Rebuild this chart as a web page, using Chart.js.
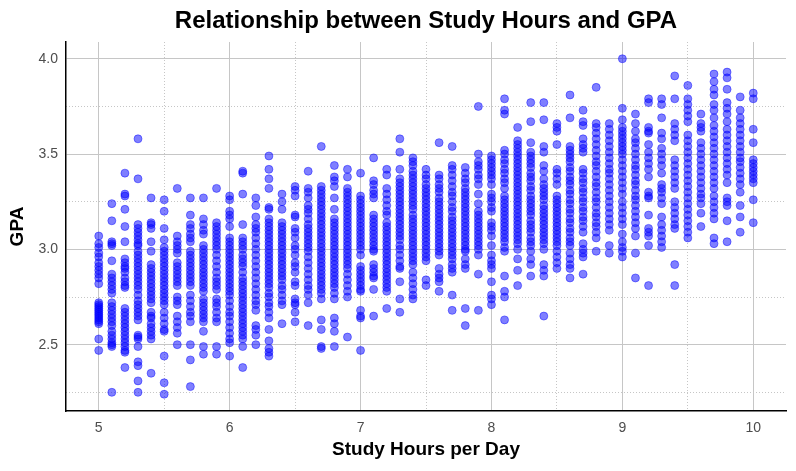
<!DOCTYPE html>
<html>
<head>
<meta charset="utf-8">
<script src="https://cdn.jsdelivr.net/npm/chart.js@4.4.1/dist/chart.umd.min.js"></script>
<style>
  html, body { margin: 0; padding: 0; background: #fff; }
  #wrap { width: 796px; height: 471px; position: relative; }
</style>
</head>
<body>
<div id="wrap"><canvas id="chart"></canvas></div>
<script>
const chartTitle = "Relationship between Study Hours and GPA";
const xTitle = "Study Hours per Day";
const yTitle = "GPA";

// study hours per day (one column of points per value)
const hours = [5.0, 5.1, 5.2, 5.3, 5.4, 5.5, 5.6, 5.7, 5.8, 5.9,
  6.0, 6.1, 6.2, 6.3, 6.4, 6.5, 6.6, 6.7, 6.8, 6.9,
  7.0, 7.1, 7.2, 7.3, 7.4, 7.5, 7.6, 7.7, 7.8, 7.9,
  8.0, 8.1, 8.2, 8.3, 8.4, 8.5, 8.6, 8.7, 8.8, 8.9,
  9.0, 9.1, 9.2, 9.3, 9.4, 9.5, 9.6, 9.7, 9.8, 9.9, 10.0];

// GPA values, same order as hours
const gpa = [
  [3.07,3.03,3.01,2.98,2.96,2.93,2.91,2.89,2.87,2.85,2.82,2.72,2.71,2.70,2.69,2.68,2.67,2.66,2.65,2.64,2.63,2.62,2.61,2.53,2.47],
  [3.24,3.15,3.04,3.03,3.02,2.94,2.87,2.85,2.83,2.81,2.79,2.77,2.72,2.70,2.68,2.66,2.64,2.62,2.60,2.57,2.55,2.53,2.51,2.50,2.49,2.25],
  [3.40,3.29,3.28,3.21,3.12,3.04,2.95,2.93,2.91,2.90,2.88,2.85,2.83,2.81,2.80,2.69,2.67,2.65,2.63,2.61,2.59,2.57,2.55,2.53,2.51,2.49,2.47,2.46,2.38],
  [3.58,3.37,3.13,3.11,3.09,3.07,3.05,3.03,3.02,2.99,2.97,2.95,2.93,2.91,2.89,2.87,2.85,2.83,2.81,2.79,2.76,2.73,2.71,2.69,2.67,2.65,2.63,2.55,2.54,2.53,2.49,2.41,2.39,2.31,2.25],
  [3.27,3.14,3.13,3.11,3.04,2.99,2.92,2.90,2.88,2.86,2.84,2.82,2.80,2.78,2.76,2.74,2.72,2.67,2.65,2.64,2.61,2.59,2.57,2.55,2.53,2.35],
  [3.26,3.20,3.11,3.05,3.01,2.99,2.97,2.95,2.93,2.91,2.89,2.87,2.85,2.83,2.81,2.79,2.77,2.75,2.73,2.71,2.67,2.64,2.61,2.58,2.57,2.44,2.30,2.24],
  [3.32,3.07,3.04,3.02,3.00,2.98,2.93,2.91,2.89,2.87,2.85,2.83,2.81,2.75,2.73,2.71,2.65,2.62,2.59,2.56,2.50],
  [3.27,3.18,3.13,3.11,3.08,3.06,3.04,2.99,2.97,2.95,2.93,2.91,2.89,2.87,2.85,2.83,2.81,2.76,2.73,2.70,2.67,2.65,2.62,2.50,2.42,2.28],
  [3.27,3.16,3.13,3.10,3.08,3.02,3.00,2.98,2.96,2.94,2.92,2.90,2.88,2.86,2.84,2.82,2.80,2.78,2.74,2.72,2.70,2.68,2.66,2.64,2.62,2.57,2.49,2.45],
  [3.32,3.14,3.12,3.10,3.08,3.06,3.04,3.02,3.00,2.97,2.94,2.91,2.88,2.85,2.83,2.81,2.79,2.74,2.72,2.70,2.67,2.64,2.62,2.49,2.45],
  [3.28,3.26,3.20,3.18,3.16,3.12,3.06,3.04,3.02,3.00,2.98,2.96,2.94,2.92,2.90,2.88,2.86,2.84,2.82,2.80,2.78,2.76,2.73,2.70,2.67,2.65,2.62,2.59,2.56,2.53,2.51,2.44],
  [3.41,3.40,3.29,3.13,3.06,3.04,3.02,3.00,2.97,2.95,2.93,2.91,2.88,2.85,2.83,2.81,2.79,2.77,2.75,2.73,2.71,2.69,2.67,2.65,2.63,2.61,2.59,2.57,2.55,2.53,2.49,2.38],
  [3.27,3.23,3.17,3.13,3.11,3.09,3.06,3.03,3.00,2.97,2.94,2.91,2.88,2.85,2.82,2.79,2.76,2.73,2.71,2.68,2.60,2.58,2.55,2.50],
  [3.49,3.42,3.37,3.32,3.22,3.21,3.16,3.14,3.12,3.10,3.08,3.06,3.04,3.02,3.00,2.98,2.96,2.94,2.92,2.90,2.88,2.86,2.84,2.82,2.80,2.77,2.75,2.72,2.70,2.67,2.64,2.58,2.52,2.48,2.46,2.44],
  [3.29,3.25,3.21,3.14,3.12,3.10,3.08,3.06,3.04,3.02,3.00,2.98,2.96,2.94,2.92,2.90,2.88,2.86,2.84,2.81,2.79,2.76,2.73,2.71,2.61],
  [3.33,3.31,3.28,3.18,3.17,3.11,3.09,3.06,3.02,3.00,2.97,2.93,2.91,2.88,2.83,2.81,2.74,2.72,2.71,2.67,2.62],
  [3.41,3.32,3.30,3.27,3.23,3.21,3.19,3.16,3.13,3.11,3.09,3.07,3.05,3.03,3.01,2.99,2.96,2.93,2.90,2.87,2.84,2.81,2.79,2.76,2.72,2.60],
  [3.54,3.33,3.31,3.29,3.27,3.25,3.23,3.21,3.19,3.17,3.15,3.13,3.11,3.09,3.07,3.05,3.03,3.01,2.99,2.97,2.95,2.93,2.91,2.89,2.87,2.85,2.83,2.81,2.79,2.77,2.74,2.63,2.58,2.49,2.48],
  [3.44,3.38,3.36,3.33,3.27,3.21,3.16,3.14,3.12,3.10,3.08,3.06,3.04,3.02,3.00,2.98,2.96,2.94,2.92,2.90,2.88,2.86,2.84,2.82,2.80,2.77,2.74,2.64,2.61,2.57,2.49],
  [3.42,3.38,3.32,3.30,3.28,3.26,3.24,3.22,3.20,3.18,3.16,3.14,3.12,3.10,3.08,3.06,3.04,3.02,3.00,2.98,2.96,2.94,2.92,2.90,2.87,2.84,2.81,2.78,2.75,2.54],
  [3.40,3.28,3.26,3.24,3.22,3.20,3.18,3.16,3.14,3.12,3.10,3.08,3.06,3.04,3.02,3.00,2.97,2.91,2.89,2.87,2.85,2.83,2.81,2.79,2.78,2.68,2.65,2.64,2.47],
  [3.48,3.36,3.34,3.31,3.29,3.27,3.18,3.16,3.14,3.12,3.10,3.08,3.06,3.04,3.02,3.00,2.99,2.92,2.90,2.88,2.86,2.85,2.79,2.65],
  [3.42,3.39,3.32,3.29,3.26,3.23,3.20,3.18,3.14,3.12,3.10,3.08,3.06,3.04,3.02,3.00,2.98,2.96,2.94,2.92,2.90,2.88,2.86,2.84,2.82,2.80,2.78,2.69],
  [3.58,3.51,3.42,3.37,3.35,3.33,3.31,3.29,3.27,3.25,3.23,3.21,3.19,3.17,3.15,3.13,3.11,3.09,3.07,3.05,3.02,3.00,2.97,2.94,2.91,2.90,2.83,2.74,2.67],
  [3.48,3.46,3.44,3.41,3.39,3.37,3.35,3.33,3.31,3.29,3.27,3.25,3.23,3.21,3.18,3.16,3.14,3.12,3.10,3.08,3.06,3.04,3.02,3.00,2.98,2.96,2.94,2.92,2.88,2.85,2.82,2.79,2.76,2.74],
  [3.42,3.39,3.37,3.34,3.32,3.30,3.28,3.26,3.24,3.22,3.20,3.18,3.16,3.14,3.12,3.10,3.08,3.06,3.04,3.02,3.00,2.98,2.96,2.94,2.84,2.81],
  [3.56,3.39,3.37,3.34,3.32,3.30,3.27,3.25,3.23,3.21,3.19,3.17,3.15,3.13,3.11,3.09,3.07,3.05,3.03,3.01,2.99,2.97,2.90,2.87,2.85,2.83,2.78],
  [3.54,3.44,3.42,3.39,3.36,3.33,3.30,3.28,3.25,3.22,3.20,3.17,3.15,3.13,3.11,3.09,3.07,3.05,3.03,3.01,2.99,2.97,2.95,2.92,2.90,2.88,2.76,2.68],
  [3.43,3.40,3.37,3.35,3.32,3.30,3.28,3.26,3.24,3.22,3.20,3.18,3.16,3.14,3.12,3.10,3.08,3.06,3.04,3.02,3.00,2.99,2.95,2.92,2.90,2.69,2.60],
  [3.75,3.50,3.46,3.44,3.42,3.39,3.37,3.34,3.29,3.24,3.20,3.18,3.16,3.14,3.12,3.10,3.08,3.06,3.04,3.02,3.00,2.97,2.87,2.68],
  [3.49,3.47,3.45,3.43,3.41,3.39,3.37,3.34,3.29,3.27,3.25,3.22,3.20,3.14,3.12,3.10,3.07,3.02,2.97,2.94,2.92,2.90,2.83,2.76,2.74,2.71],
  [3.79,3.73,3.71,3.52,3.50,3.47,3.45,3.42,3.40,3.37,3.35,3.32,3.28,3.26,3.24,3.22,3.20,3.18,3.16,3.14,3.12,3.10,3.08,3.06,3.04,3.01,2.99,2.86,2.78,2.75,2.63],
  [3.64,3.57,3.55,3.53,3.51,3.49,3.47,3.45,3.43,3.41,3.39,3.37,3.35,3.33,3.31,3.29,3.27,3.25,3.23,3.21,3.19,3.17,3.15,3.13,3.11,3.09,3.07,3.05,3.03,3.00,2.95,2.89,2.81],
  [3.77,3.67,3.56,3.51,3.49,3.47,3.45,3.43,3.40,3.38,3.36,3.33,3.31,3.28,3.26,3.24,3.22,3.20,3.18,3.15,3.13,3.11,3.09,3.06,3.04,3.02,2.99,2.95,2.92,2.86],
  [3.77,3.68,3.54,3.51,3.44,3.41,3.37,3.34,3.32,3.30,3.28,3.26,3.23,3.21,3.19,3.17,3.15,3.13,3.11,3.09,3.07,3.05,3.03,3.00,2.92,2.89,2.86,2.65],
  [3.66,3.64,3.62,3.55,3.42,3.40,3.37,3.34,3.28,3.26,3.24,3.22,3.20,3.18,3.16,3.14,3.12,3.10,3.08,3.06,3.04,3.02,2.99,2.96,2.93,2.90],
  [3.81,3.69,3.54,3.52,3.50,3.48,3.46,3.43,3.41,3.38,3.36,3.34,3.31,3.29,3.26,3.24,3.21,3.19,3.16,3.14,3.11,3.09,3.06,3.04,3.02,2.98,2.95,2.92,2.90,2.85],
  [3.73,3.67,3.65,3.58,3.55,3.53,3.51,3.42,3.40,3.37,3.35,3.32,3.30,3.27,3.25,3.22,3.20,3.17,3.15,3.12,3.09,3.03,3.00,2.98,2.96,2.87],
  [3.85,3.66,3.64,3.61,3.58,3.55,3.52,3.49,3.46,3.44,3.41,3.38,3.35,3.33,3.30,3.27,3.25,3.22,3.19,3.17,3.14,3.12,3.09,3.06,2.99],
  [3.66,3.63,3.60,3.57,3.54,3.51,3.48,3.45,3.42,3.40,3.37,3.34,3.31,3.28,3.25,3.22,3.19,3.16,3.13,3.10,3.02,2.98],
  [4.00,3.74,3.68,3.64,3.62,3.60,3.58,3.56,3.54,3.52,3.50,3.47,3.44,3.41,3.38,3.35,3.32,3.29,3.25,3.22,3.19,3.16,3.13,3.08,3.04,3.01,2.99,2.96],
  [3.71,3.66,3.62,3.58,3.56,3.53,3.50,3.47,3.44,3.42,3.39,3.36,3.34,3.31,3.28,3.26,3.23,3.20,3.17,3.14,3.11,3.07,2.98,2.85],
  [3.79,3.77,3.64,3.62,3.61,3.55,3.51,3.48,3.45,3.42,3.38,3.30,3.28,3.27,3.18,3.11,3.09,3.07,3.02,2.81],
  [3.79,3.76,3.69,3.61,3.58,3.53,3.50,3.47,3.44,3.40,3.34,3.32,3.30,3.27,3.24,3.17,3.13,3.10,3.07,3.04,3.01],
  [3.91,3.79,3.66,3.63,3.60,3.57,3.47,3.44,3.41,3.38,3.35,3.32,3.25,3.22,3.19,3.16,3.13,3.11,2.92,2.81],
  [3.86,3.79,3.76,3.73,3.70,3.67,3.60,3.57,3.54,3.51,3.48,3.45,3.42,3.39,3.36,3.33,3.30,3.27,3.24,3.21,3.18,3.15,3.12,3.09,3.06],
  [3.71,3.66,3.64,3.62,3.56,3.53,3.50,3.47,3.44,3.41,3.38,3.35,3.32,3.29,3.27,3.24,3.19,3.12],
  [3.92,3.88,3.84,3.81,3.76,3.73,3.69,3.65,3.62,3.59,3.56,3.53,3.50,3.47,3.44,3.41,3.38,3.35,3.32,3.28,3.25,3.22,3.19,3.16,3.06,3.03],
  [3.93,3.90,3.84,3.77,3.74,3.71,3.67,3.63,3.60,3.57,3.54,3.51,3.48,3.45,3.42,3.39,3.35,3.27,3.25,3.23,3.15,3.04],
  [3.80,3.73,3.69,3.66,3.63,3.60,3.57,3.54,3.51,3.48,3.46,3.43,3.40,3.37,3.34,3.30,3.23,3.17,3.09],
  [3.82,3.79,3.63,3.56,3.47,3.45,3.43,3.41,3.39,3.37,3.35,3.26,3.14]
];

const xTicks = [5, 6, 7, 8, 9, 10];
const xMinorTicks = [5.5, 6.5, 7.5, 8.5, 9.5];
const yTicks = [2.5, 3.0, 3.5, 4.0];
const yMinorTicks = [2.25, 2.75, 3.25, 3.75];

const points = hours.flatMap((h, i) => gpa[i].map(g => ({ x: h, y: g })));

const FONT = '"Liberation Sans", Arial, sans-serif';
const GRID = "#c6c6c6";
const setTicks = list => scale => { scale.ticks = list.map(v => ({ value: v })); };

const minorAxis = (position, list, min, max) => ({
  type: "linear",
  position: position,
  min: min,
  max: max,
  afterBuildTicks: setTicks(list),
  afterFit: s => { if (position === "left") s.width = 0; else s.height = 0; },
  ticks: { display: false },
  grid: { color: GRID, lineWidth: 1, drawTicks: false },
  border: { display: false, dash: [1, 2] }
});

// draw the title centred over the plotting area
const titlePlugin = {
  id: "plotTitle",
  afterDraw(chart) {
    const { ctx, chartArea } = chart;
    ctx.save();
    ctx.font = "bold 24px " + FONT;
    ctx.fillStyle = "#000";
    ctx.textAlign = "center";
    ctx.textBaseline = "alphabetic";
    ctx.fillText(chartTitle, (chartArea.left + chartArea.right) / 2, 28);
    ctx.restore();
  }
};

new Chart(document.getElementById("chart"), {
  type: "scatter",
  data: {
    datasets: [{
      data: points,
      pointRadius: 4,
      pointHoverRadius: 4,
      backgroundColor: "rgba(0, 0, 255, 0.5)",
      borderColor: "rgba(0, 0, 255, 0.55)",
      borderWidth: 0.8
    }]
  },
  options: {
    responsive: true,
    maintainAspectRatio: false,
    animation: false,
    layout: { padding: { top: 42, right: 10, left: 0, bottom: 0 } },
    plugins: { legend: { display: false }, tooltip: { enabled: false } },
    scales: {
      x: {
        type: "linear",
        position: "bottom",
        min: 4.75,
        max: 10.25,
        afterBuildTicks: setTicks(xTicks),
        afterFit: s => { s.height = 60; },
        ticks: { color: "#4d4d4d", font: { family: FONT, size: 14 }, padding: 9, callback: v => String(v) },
        grid: { color: GRID, lineWidth: 1, drawTicks: false },
        border: { display: true, color: "#000", width: 1.5 },
        title: { display: true, text: xTitle, color: "#000", font: { family: FONT, size: 19, weight: "bold" }, padding: { top: 9.5, bottom: 9.5 } }
      },
      y: {
        type: "linear",
        position: "left",
        min: 2.152,
        max: 4.088,
        afterBuildTicks: setTicks(yTicks),
        afterFit: s => { s.width = 66; },
        ticks: { color: "#4d4d4d", font: { family: FONT, size: 14 }, padding: 8, callback: v => v.toFixed(1) },
        grid: { color: GRID, lineWidth: 1, drawTicks: false },
        border: { display: true, color: "#000", width: 1.5 },
        title: { display: true, text: yTitle, color: "#000", font: { family: FONT, size: 19, weight: "bold" }, padding: { top: 6.5, bottom: 6.5 } }
      },
      xm: minorAxis("bottom", xMinorTicks, 4.75, 10.25),
      ym: minorAxis("left", yMinorTicks, 2.152, 4.088)
    }
  },
  plugins: [titlePlugin]
});
</script>
</body>
</html>
